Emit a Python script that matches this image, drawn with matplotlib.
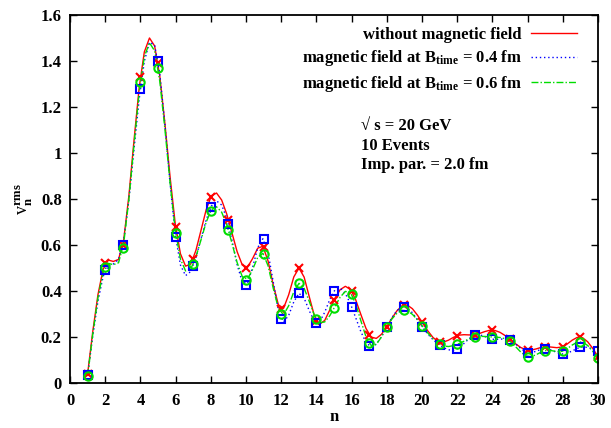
import numpy as np
import matplotlib
matplotlib.use("Agg")
import matplotlib.pyplot as plt
from matplotlib.ticker import MultipleLocator, FuncFormatter

plt.rcParams['font.family'] = ['Liberation Serif', 'DejaVu Serif']
plt.rcParams['font.weight'] = 'bold'
plt.rcParams['mathtext.fontset'] = 'custom'
plt.rcParams['mathtext.rm'] = 'Liberation Serif:bold'
plt.rcParams['mathtext.it'] = 'Liberation Serif:bold'
plt.rcParams['mathtext.bf'] = 'Liberation Serif:bold'

n = np.arange(1, 31)

v_no_field = [0.04, 0.52, 0.60, 1.33, 1.39, 0.68, 0.54, 0.81, 0.71, 0.50,
              0.59, 0.32, 0.50, 0.27, 0.36, 0.40, 0.21, 0.245, 0.34, 0.265,
              0.178, 0.206, 0.21, 0.23, 0.19, 0.143, 0.158, 0.158, 0.20, 0.115]
v_b04 = [0.035, 0.49, 0.60, 1.28, 1.40, 0.633, 0.51, 0.765, 0.69, 0.425,
         0.625, 0.277, 0.39, 0.26, 0.40, 0.332, 0.16, 0.245, 0.332, 0.245,
         0.165, 0.148, 0.209, 0.19, 0.187, 0.132, 0.15, 0.126, 0.155, 0.139]
v_b06 = [0.03, 0.506, 0.585, 1.31, 1.368, 0.654, 0.516, 0.749, 0.665, 0.448,
         0.561, 0.299, 0.433, 0.277, 0.325, 0.386, 0.172, 0.243, 0.317, 0.25,
         0.168, 0.168, 0.20, 0.20, 0.181, 0.115, 0.141, 0.139, 0.18, 0.107]

labels = ['without magnetic field',
          r'magnetic field at B$_{time}$ = 0.4 fm',
          r'magnetic field at B$_{time}$ = 0.6 fm']


def csplines(x, y, samples=100):
    # natural cubic spline, like gnuplot's "smooth csplines"
    x = np.asarray(x, float)
    y = np.asarray(y, float)
    m = len(x)
    h = np.diff(x)
    A = np.zeros((m, m))
    r = np.zeros(m)
    A[0, 0] = A[-1, -1] = 1.0
    for i in range(1, m - 1):
        A[i, i - 1] = h[i - 1]
        A[i, i] = 2 * (h[i - 1] + h[i])
        A[i, i + 1] = h[i]
        r[i] = 6 * ((y[i + 1] - y[i]) / h[i] - (y[i] - y[i - 1]) / h[i - 1])
    M = np.linalg.solve(A, r)
    xs = np.linspace(x[0], x[-1], samples)
    k = np.clip(np.searchsorted(x, xs) - 1, 0, m - 2)
    t1 = x[k + 1] - xs
    t0 = xs - x[k]
    hk = h[k]
    ys = (M[k] * t1**3 / (6 * hk) + M[k + 1] * t0**3 / (6 * hk)
          + (y[k] / hk - M[k] * hk / 6) * t1 + (y[k + 1] / hk - M[k + 1] * hk / 6) * t0)
    return xs, ys


fig = plt.figure(figsize=(6.11, 4.28), dpi=100)
ax = fig.add_axes([0.1146, 0.1051, 0.8641, 0.8599])

red, blue, green = '#ff0000', '#0000ff', '#00dd00'

xs, ys = csplines(n, v_no_field)
ax.plot(xs, ys, color=red, lw=1.0, ls='-', label=labels[0])
xs, ys = csplines(n, v_b04)
ax.plot(xs, ys, color=blue, lw=1.0, ls=(0, (1, 2)), label=labels[1])
xs, ys = csplines(n, v_b06)
ax.plot(xs, ys, color=green, lw=1.0, ls=(0, (5, 1.5, 1, 1.5)), label=labels[2])

ax.plot(n, v_no_field, ls='none', marker='x', ms=6, mew=1.5, color=red)
ax.plot(n, v_b04, ls='none', marker='s', ms=6, mew=1.5, mfc='none', color=blue)
ax.plot(n, v_b06, ls='none', marker='o', ms=6, mew=1.5, mfc='none', color=green)

ax.set_xlim(0, 30)
ax.set_ylim(0, 1.6)
ax.xaxis.set_major_locator(MultipleLocator(2))
ax.yaxis.set_major_locator(MultipleLocator(0.2))
ax.yaxis.set_major_formatter(FuncFormatter(lambda v, p: f'{v:g}'))
ax.tick_params(direction='in', length=5, width=1, top=True, right=True,
               labelsize=12)
ax.tick_params(axis='x', pad=7)
ax.tick_params(axis='y', pad=6)
for lab in ax.get_xticklabels() + ax.get_yticklabels():
    lab.set_fontweight('bold')
for sp in ax.spines.values():
    sp.set_linewidth(1.3)

ax.set_xlabel('n', fontsize=12, fontweight='bold', labelpad=0)
ax.set_ylabel(r'v$_n^{rms}$', fontsize=13, labelpad=4)

leg = ax.legend(loc='upper right', bbox_to_anchor=(0.983, 1.0),
                markerfirst=False, frameon=False,
                fontsize=12, handlelength=2.8, handletextpad=0.55,
                labelspacing=0.35, borderaxespad=0.3)
for t in leg.get_texts():
    t.set_fontweight('bold')

ax.text(0.551, 0.645, '\u221a s = 20 GeV\n10 Events\nImp. par. = 2.0 fm',
        transform=ax.transAxes, fontsize=12, fontweight='bold',
        va='center', ha='left', linespacing=1.3)

fig.savefig('out.png', dpi=100)
